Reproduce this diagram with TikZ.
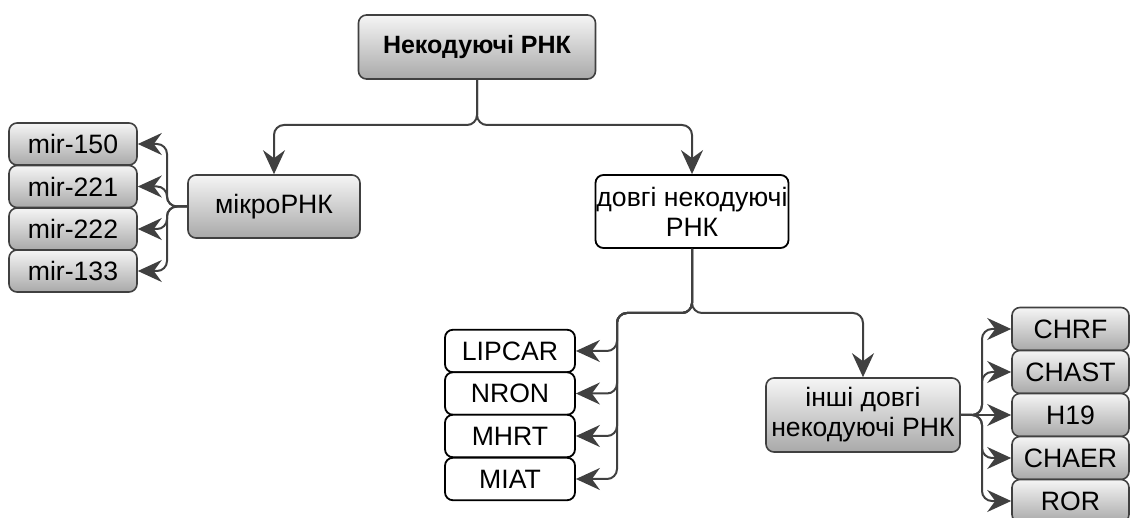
\documentclass[tikz,border=0pt]{standalone}
\usepackage{fontspec}
\setmainfont{Liberation Sans}
\usetikzlibrary{arrows.meta}

\definecolor{linegray}{HTML}{404040}
\definecolor{topgray}{HTML}{F5F5F5}
\definecolor{botgray}{HTML}{A9A9A9}
\newcommand{\boxfont}{\fontsize{13.3}{15}\selectfont}

\begin{document}
\begin{tikzpicture}[x=0.5pt, y=-0.5pt,
    graybox/.style={draw=linegray, line width=0.8pt, rounded corners=4pt,
                    top color=topgray, bottom color=botgray,
                    inner sep=0pt, align=center, font=\boxfont},
    whitebox/.style={draw=black, line width=0.9pt, rounded corners=4pt,
                     fill=white, inner sep=0pt, align=center, font=\boxfont}]
    \useasboundingbox (0,0) rectangle (1131,518);

    \begin{scope}[every node/.style={graybox}]
        \node[minimum width=118.5pt, minimum height=32pt, font=\fontsize{12.5}{15}\selectfont\bfseries] (ncrna) at (477,47) {Некодуючі РНК};
        \node[minimum width=86pt, minimum height=31.5pt] (mikro) at (274,206.5) {мікроРНК};
        \node[minimum width=97pt, minimum height=37pt] (inshi) at (863,415) {інші довгі\\некодуючі РНК};
    \end{scope}

    \begin{scope}[every node/.style={graybox, minimum width=64pt, minimum height=21pt}]
        \node (mir150) at (73,144) {mir-150};
        \node (mir221) at (73,186.5) {mir-221};
        \node (mir222) at (73,229) {mir-222};
        \node (mir133) at (73,271) {mir-133};
    \end{scope}

    \begin{scope}[every node/.style={graybox, minimum width=58.5pt, minimum height=21.5pt}]
        \node (chrf) at (1070.5,329) {CHRF};
        \node (chast) at (1070.5,372) {CHAST};
        \node (h19) at (1070.5,415) {H19};
        \node (chaer) at (1070.5,458) {CHAER};
        \node (ror) at (1070.5,501) {ROR};
    \end{scope}

    \node[whitebox, minimum width=96.5pt, minimum height=36.5pt] (dovgi) at (692,211.5) {довгі некодуючі\\РНК};

    \begin{scope}[every node/.style={whitebox, minimum width=65pt, minimum height=21.25pt}]
        \node (lipcar) at (510,351) {LIPCAR};
        \node (nron) at (510,393.5) {NRON};
        \node (mhrt) at (510,436) {MHRT};
        \node (miat) at (510,479) {MIAT};
    \end{scope}

    \begin{scope}[>={Stealth[length=12pt, width=11pt, inset=4pt]},
                  every path/.style={draw=linegray, line width=1pt, rounded corners=5pt}]
        \coordinate (jtop) at (477,125);
        \coordinate (jm) at (167,206.5);
        \coordinate (jd) at (692,313);
        \coordinate (jl) at (617,313);
        \coordinate (jr) at (982,415);

        \draw[->] (ncrna.south) -- (jtop) -| (mikro.north);
        \draw[->] (ncrna.south) -- (jtop) -| (dovgi.north);

        \foreach \n in {mir150, mir221, mir222, mir133}
            \draw[->] (mikro.west) -- (jm) |- (\n.east);

        \draw[->] (dovgi.south) -- (jd) -| (inshi.north);
        \foreach \n in {lipcar, nron, mhrt, miat}
            \draw[->] (dovgi.south) -- (jd) -- (jl) |- (\n.east);

        \foreach \n in {chrf, chast, chaer, ror}
            \draw[->] (inshi.east) -- (jr) |- (\n.west);
        \draw[->] (inshi.east) -- (h19.west);
    \end{scope}
\end{tikzpicture}
\end{document}
